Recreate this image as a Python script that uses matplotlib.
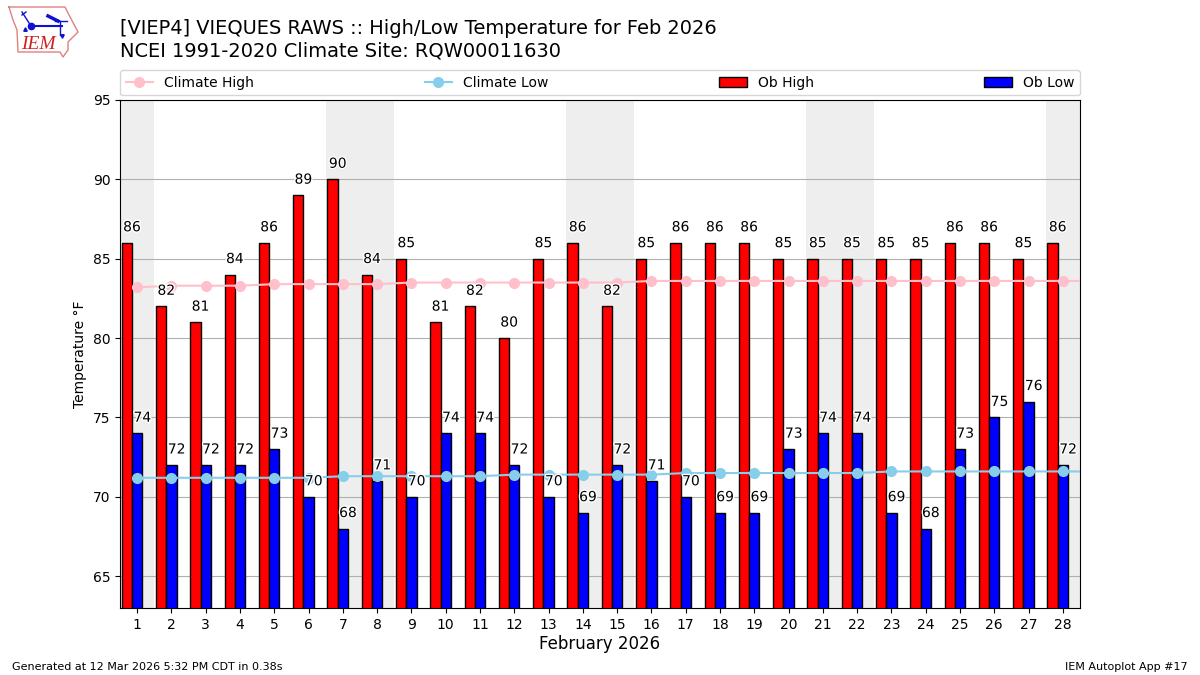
import numpy as np
import matplotlib
matplotlib.use('Agg')
import matplotlib.pyplot as plt
import matplotlib.patheffects as pe

days = list(range(1, 29))
ob_high = [86, 82, 81, 84, 86, 89, 90, 84, 85, 81, 82, 80, 85, 86,
           82, 85, 86, 86, 86, 85, 85, 85, 85, 85, 86, 86, 85, 86]
ob_low = [74, 72, 72, 72, 73, 70, 68, 71, 70, 74, 74, 72, 70, 69,
          72, 71, 70, 69, 69, 73, 74, 74, 69, 68, 73, 75, 76, 72]
# climate goes one day past the end of the month
clim_days = list(range(1, 30))
clim_high = [83.2, 83.3, 83.3, 83.3, 83.4, 83.4, 83.4, 83.4, 83.5, 83.5,
             83.5, 83.5, 83.5, 83.5, 83.5, 83.6, 83.6, 83.6, 83.6, 83.6,
             83.6, 83.6, 83.6, 83.6, 83.6, 83.6, 83.6, 83.6, 83.6]
clim_low = [71.2, 71.2, 71.2, 71.2, 71.2, 71.2, 71.3, 71.3, 71.3, 71.3,
            71.3, 71.4, 71.4, 71.4, 71.4, 71.4, 71.5, 71.5, 71.5, 71.5,
            71.5, 71.5, 71.6, 71.6, 71.6, 71.6, 71.6, 71.6, 71.6]
weekend_spans = [(0.5, 1.5), (6.5, 8.5), (13.5, 15.5), (20.5, 22.5), (27.5, 28.5)]

fig = plt.figure(figsize=(12, 6.75), dpi=100)
ax = fig.add_axes([0.1, 0.0993, 0.8, 0.7526])

for x0, x1 in weekend_spans:
    ax.axvspan(x0, x1, color='#eeeeee', lw=0, zorder=0)

x = np.array(days)
ax.bar(x - 0.3, ob_high, width=0.3, color='red', edgecolor='k', label='Ob High', zorder=2)
ax.bar(x, ob_low, width=0.3, color='blue', edgecolor='k', label='Ob Low', zorder=2)
ax.plot(clim_days, clim_high, color='pink', marker='o', lw=1.5, ms=7, label='Climate High', zorder=3)
ax.plot(clim_days, clim_low, color='skyblue', marker='o', lw=1.5, ms=7, label='Climate Low', zorder=3)

stroke = [pe.withStroke(linewidth=2, foreground='white')]
for d, hi, lo in zip(days, ob_high, ob_low):
    ax.text(d - 0.15, hi + 0.54, str(hi), ha='center', va='bottom', fontsize=10,
            path_effects=stroke, zorder=4)
    ax.text(d + 0.15, lo + 0.54, str(lo), ha='center', va='bottom', fontsize=10,
            path_effects=stroke, zorder=4)

ax.set_xlim(0.5, 28.5)
ax.set_ylim(63, 95)
ax.set_xticks(days)
ax.set_yticks(range(65, 100, 5))
ax.grid(axis='y')
ax.set_axisbelow(True)
ax.set_ylabel('Temperature °F')
ax.set_xlabel('February 2026', fontsize=12, labelpad=2.5)

handles, labels = ax.get_legend_handles_labels()
order = [labels.index(n) for n in ['Climate High', 'Climate Low', 'Ob High', 'Ob Low']]
ax.legend([handles[i] for i in order], [labels[i] for i in order], ncol=4, mode='expand',
          loc='lower left', bbox_to_anchor=(0, 1.009, 1, 0.05), borderaxespad=0)

fig.text(0.1, 0.911, '[VIEP4] VIEQUES RAWS :: High/Low Temperature for Feb 2026\n'
         'NCEI 1991-2020 Climate Site: RQW00011630', fontsize=13.95, va='bottom', ha='left')
fig.text(0.01, 0.008, 'Generated at 12 Mar 2026 5:32 PM CDT in 0.38s', fontsize=8)
fig.text(0.99, 0.008, 'IEM Autoplot App #17', fontsize=8, ha='right')

# rough logo, axes units are pixels
logo = fig.add_axes([0, 0.9111, 0.07, 0.0889])
logo.set_xlim(0, 84)
logo.set_ylim(60, 0)
logo.axis('off')
outline_x = [9, 65, 68, 78, 68, 68, 63, 60, 18, 17, 13, 9]
outline_y = [7, 7, 13, 32, 42, 50, 57, 52, 52, 30, 20, 7]
logo.plot(outline_x, outline_y, color='#e08080', lw=1)
blue = '#1010d0'
logo.plot([31, 62], [26, 26], color=blue, lw=1.5)
logo.plot(31, 26, 'o', color=blue, ms=4.5)
logo.plot([48, 58], [16, 21], color=blue, lw=2.5)
logo.plot([55, 67], [21, 21], color=blue, lw=1)
logo.plot([60, 60], [21, 35], color=blue, lw=1)
logo.plot([22, 31], [12, 26], color=blue, lw=1)
logo.plot([22, 26], [15, 12], color=blue, lw=1)
logo.plot(25, 29, '^', color=blue, ms=2.5)
logo.plot(62, 36, 'v', color=blue, ms=2.5)
logo.text(21, 44, 'IEM', color='#d02020', fontsize=14, family='Liberation Serif',
          style='italic', va='center')

fig.savefig('out.png', dpi=100)
